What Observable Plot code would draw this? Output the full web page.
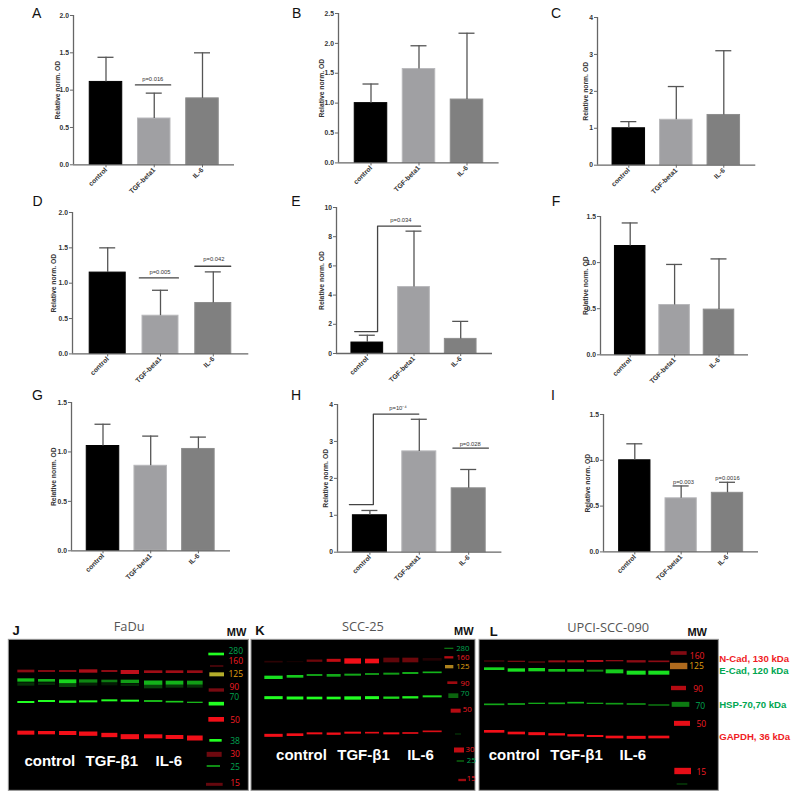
<!DOCTYPE html>
<html>
<head>
<meta charset="utf-8">
<script src="https://cdn.jsdelivr.net/npm/d3@7"></script>
<script src="https://cdn.jsdelivr.net/npm/@observablehq/plot@0.6"></script>
<style>
  html, body { margin: 0; padding: 0; background: #fff; }
  #page { position: relative; width: 800px; height: 799px; overflow: hidden; font-family: "Liberation Sans", Arial, sans-serif; }
  #page svg { position: absolute; background: transparent; }
  .letter { position: absolute; font-size: 14px; line-height: 14px; color: #111; transform: translate(-50%, -50%); }
</style>
</head>
<body>
<div id="page"></div>
<script>
// ---------- Bar chart data ----------
const categories = ["control", "TGF-beta1", "IL-6"];
const positions = [1, 2, 3];
const barFill = ["#000000", "#a0a0a3", "#808080"];
const barStroke = ["#000000", "#b8b8bb", "#8e8e8e"];
const yLabel = "Relative norm. OD";

const means_A = [1.11, 0.62, 0.89], upper_A = [1.44, 0.96, 1.50];
const means_B = [1.00, 1.57, 1.06], upper_B = [1.32, 1.96, 2.17];
const means_C = [1.00, 1.23, 1.36], upper_C = [1.18, 2.13, 3.10];
const means_D = [1.15, 0.54, 0.72], upper_D = [1.50, 0.90, 1.16];
const means_E = [0.75, 4.55, 1.00], upper_E = [1.25, 8.38, 2.20];
const means_F = [1.18, 0.54, 0.49], upper_F = [1.43, 0.98, 1.04];
const means_G = [1.06, 0.86, 1.03], upper_G = [1.28, 1.16, 1.15];
const means_H = [1.00, 2.73, 1.73], upper_H = [1.13, 3.60, 2.24];
const means_I = [1.00, 0.585, 0.645], upper_I = [1.18, 0.72, 0.76];

const ticks_2 = [0, 0.5, 1, 1.5, 2];
const ticks_25 = [0, 0.5, 1, 1.5, 2, 2.5];
const ticks_15 = [0, 0.5, 1, 1.5];
const ticks_4 = [0, 1, 2, 3, 4];
const ticks_10 = [0, 2, 4, 6, 8, 10];

// p-value annotations: [x in category units, y in data units, text]
const notes_A = [[1.97, 1.15, "p=0.016"]];
const notes_D = [[1.99, 1.15, "p=0.005"], [3.01, 1.34, "p=0.042"]];
const notes_E = [[1.72, 9.13, "p=0.034"]];
const notes_H = [[1.57, 3.91, "p=10\u207B\u2074"], [3.03, 2.92, "p=0.028"]];
const notes_I = [[2.05, 0.76, "p=0.003"], [3.0, 0.81, "p=0.0016"]];
// brackets: polyline vertices in [category units, data units]
const brackets_A = [[[1.61, 1.07], [2.34, 1.07]]];
const brackets_D = [[[1.60, 1.075], [2.34, 1.075]], [[2.65, 1.24], [3.33, 1.24]]];
const brackets_E = [[[0.73, 1.5], [1.22, 1.5], [1.22, 8.72], [2.14, 8.72]]];
const brackets_H = [[[0.585, 1.29], [1.07, 1.29], [1.07, 3.74], [1.99, 3.74]], [[2.68, 2.82], [3.40, 2.82]]];

// ---------- Panel layout ----------
const panels = [
  {id:"A", ax:73,    xEnd:234,   y0:164,   yTop:14.7,  c1:105.5, step:48.25, barW:32.5, ymax:2,   ticks:ticks_2,  fmt:".1f", title:18, means:means_A, upper:upper_A, notes:notes_A, brackets:brackets_A, lx:36.7, ly:13},
  {id:"B", ax:337.7, xEnd:498.3, y0:162.7, yTop:13.3,  c1:370.2, step:48,    barW:32.5, ymax:2.5, ticks:ticks_25, fmt:".1f", title:19, means:means_B, upper:upper_B, lx:296.7, ly:13},
  {id:"C", ax:596.7, xEnd:755,   y0:165,   yTop:17.3,  c1:628,   step:47.5,  barW:32.5, ymax:4,   ticks:ticks_4,  fmt:"d",   title:14, means:means_C, upper:upper_C, lx:556, ly:13},
  {id:"D", ax:72,    xEnd:248.3, y0:353.7, yTop:212.3, c1:107.2, step:52.8,  barW:36,   ymax:2,   ticks:ticks_2,  fmt:".1f", title:21, means:means_D, upper:upper_D, notes:notes_D, brackets:brackets_D, lx:37.5, ly:201},
  {id:"E", ax:335.7, xEnd:491.7, y0:352.7, yTop:206.7, c1:366.5, step:46.7,  barW:31.7, ymax:10,  ticks:ticks_10, fmt:"d",   title:17, means:means_E, upper:upper_E, notes:notes_E, brackets:brackets_E, lx:296, ly:201},
  {id:"F", ax:600.3, xEnd:748.3, y0:354,   yTop:215.7, c1:630,   step:44.4,  barW:30.5, ymax:1.5, ticks:ticks_15, fmt:".1f", title:17, means:means_F, upper:upper_F, lx:556, ly:201},
  {id:"G", ax:71,    xEnd:230,   y0:550,   yTop:401.7, c1:102.5, step:47.7,  barW:32.5, ymax:1.5, ticks:ticks_15, fmt:".1f", title:20, means:means_G, upper:upper_G, lx:37.5, ly:395},
  {id:"H", ax:337.3, xEnd:501.7, y0:551.7, yTop:404,   c1:369.7, step:49.4,  barW:34,   ymax:4,   ticks:ticks_4,  fmt:"d",   title:14, means:means_H, upper:upper_H, notes:notes_H, brackets:brackets_H, lx:296, ly:395},
  {id:"I", ax:602.7, xEnd:757.7, y0:551.7, yTop:414.3, c1:634,   step:46.35, barW:31.3, ymax:1.5, ticks:ticks_15, fmt:".1f", title:18, means:means_I, upper:upper_I, notes:notes_I, lx:553, ly:395}
];

const page = document.getElementById("page");
const ML = 32, MR = 6, MT = 6, MB = 46;

function addLetter(text, x, y) {
  const d = document.createElement("div");
  d.className = "letter";
  d.textContent = text;
  d.style.left = x + "px";
  d.style.top = y + "px";
  page.appendChild(d);
}

for (const p of panels) {
  const d0 = 1 - (p.c1 - p.ax) / p.step;
  const d1 = 1 + (p.xEnd - p.c1) / p.step;
  const hw = p.barW / 2 / p.step;
  const cap = 8 / p.step;
  const idx = [0, 1, 2];
  const axisColor = "#666";
  const marks = [
    Plot.rectY(idx, {
      x1: i => positions[i] - hw, x2: i => positions[i] + hw,
      y1: 0, y2: i => p.means[i],
      fill: i => barFill[i], stroke: i => barStroke[i], strokeWidth: 1
    }),
    Plot.ruleX(idx, {x: i => positions[i], y1: i => p.means[i], y2: i => p.upper[i], stroke: "#555", strokeWidth: 1.3}),
    Plot.ruleY(idx, {y: i => p.upper[i], x1: i => positions[i] - cap, x2: i => positions[i] + cap, stroke: "#555", strokeWidth: 1.3}),
    Plot.ruleX([d0], {y1: 0, y2: p.ymax, stroke: axisColor, strokeWidth: 1.3}),
    Plot.ruleY([0], {x1: d0, x2: d1, stroke: axisColor, strokeWidth: 1.3}),
    Plot.axisY({
      ticks: p.ticks, tickFormat: d3.format(p.fmt), tickSize: 3, tickPadding: 1.5,
      stroke: axisColor, label: yLabel, labelAnchor: "center", labelArrow: "none", labelOffset: p.title
    }),
    Plot.axisX({
      ticks: positions, tickFormat: i => categories[i - 1], tickSize: 3, tickPadding: 1,
      tickRotate: -45, stroke: axisColor, label: null
    })
  ];
  for (const b of p.brackets || []) {
    marks.push(Plot.line(b, {x: d => d[0], y: d => d[1], stroke: "#444", strokeWidth: 1.3, curve: "linear"}));
  }
  if (p.notes) {
    marks.push(Plot.text(p.notes, {x: d => d[0], y: d => d[1], text: d => d[2], fontSize: 5.8, fontWeight: "normal", fill: "#333"}));
  }
  const svg = Plot.plot({
    width: p.xEnd - p.ax + ML + MR,
    height: p.y0 - p.yTop + MT + MB,
    marginLeft: ML, marginRight: MR, marginTop: MT, marginBottom: MB,
    x: {domain: [d0, d1]},
    y: {domain: [0, p.ymax]},
    style: {fontFamily: '"Liberation Sans", Arial, sans-serif', fontSize: "6.8px", fontWeight: "bold", color: "#333", background: "transparent", overflow: "visible"},
    marks
  });
  svg.style.left = (p.ax - ML) + "px";
  svg.style.top = (p.yTop - MT) + "px";
  page.appendChild(svg);
  addLetter(p.id, p.lx, p.ly);
}

// ---------- Western blot data (gel image units) ----------
const RED = "#f20f18", DRED = "#c8101c", GREEN = "#18e020", LIME = "#22ff22", ORANGE = "#c09020";
const TGREEN = "#00a651", TRED = "#f01c24", TORANGE = "#e0a010";

const fadu_left  = [52, 114, 177, 237, 304, 362, 432, 497, 561];
const fadu_right = [103, 165, 229, 292, 352, 417, 487, 550, 608];
const fadu_ncad_y  = [183, 183, 183, 183, 183, 186, 185, 185, 185];
const fadu_ncad_th = [8, 6, 6, 10, 6, 12, 8, 8, 8];
const fadu_ncad_op = [0.7, 0.65, 0.65, 0.85, 0.7, 0.95, 0.8, 0.8, 0.75];
const fadu_ecad_y  = [210, 211, 214, 213, 213, 214, 218, 218, 218];
const fadu_ecad_th = [10, 8, 12, 10, 8, 10, 13, 12, 12];
const fadu_ecad_op = [0.85, 0.8, 0.95, 0.6, 0.55, 0.7, 0.8, 0.8, 0.7];
const fadu_smear_y  = [222, 221, 226, 223, 222, 224, 230, 229, 229];
const fadu_smear_th = [10, 8, 10, 8, 8, 8, 10, 8, 8];
const fadu_smear_op = [0.22, 0.18, 0.3, 0.15, 0.12, 0.18, 0.3, 0.25, 0.22];
const fadu_hsp_y   = [276, 273, 275, 274, 271, 272, 273, 275, 277];
const fadu_hsp_th  = [6, 6, 7, 6, 6, 6, 5, 5, 4];
const fadu_hsp_op  = [1, 1, 1, 1, 1, 1, 0.85, 0.8, 0.7];
const fadu_gapdh_y  = [368, 368, 369, 371, 375, 380, 379, 381, 384];
const fadu_gapdh_th = [12, 10, 12, 13, 13, 15, 12, 12, 15];
const fadu_gapdh_op = [1, 1, 1, 1, 1, 1, 1, 1, 1];
const fadu_mw_x1 = [625, 630, 628, 626, 626, 625, 628, 620, 620, 618];
const fadu_mw_x2 = [672, 670, 672, 672, 672, 672, 665, 665, 660, 668];
const fadu_mw_y  = [132, 168, 193, 240, 281, 328, 391, 433, 468, 523];
const fadu_mw_th = [8, 5, 12, 10, 11, 14, 8, 15, 5, 9];
const fadu_mw_fill = [LIME, DRED, "#c8c030", DRED, LIME, RED, LIME, DRED, GREEN, DRED];
const fadu_mw_op = [1, 0.4, 0.9, 0.6, 1, 1, 1, 0.55, 0.75, 0.5];
const fadu_label_text = ["280", "160", "125", "90", "70", "50", "38", "30", "25", "15"];
const fadu_label_x = [684, 684, 684, 687, 687, 689, 689, 689, 689, 689];
const fadu_label_y = [122, 152, 192, 230, 260, 328, 392, 430, 470, 518];
const fadu_label_fill = [TGREEN, TRED, TORANGE, TRED, TGREEN, TRED, TGREEN, TRED, TGREEN, TRED];

const scc25_left  = [58, 125, 185, 245, 298, 360, 415, 472, 533];
const scc25_right = [113, 175, 232, 287, 348, 402, 463, 520, 590];
const scc25_ncad_y  = [155, 155, 152, 151, 153, 153, 150, 150, 148];
const scc25_ncad_th = [5, 3, 7, 9, 16, 14, 14, 14, 8];
const scc25_ncad_op = [0.18, 0.1, 0.45, 0.8, 1, 1, 0.4, 0.45, 0.15];
const scc25_ecad_y  = [202, 199, 195, 196, 194, 192, 191, 189, 187];
const scc25_ecad_th = [10, 8, 6, 8, 6, 6, 6, 6, 5];
const scc25_ecad_op = [1, 0.9, 0.7, 0.75, 0.75, 0.65, 0.7, 0.75, 0.8];
const scc25_hsp_y   = [263, 264, 264, 264, 264, 263, 263, 262, 259];
const scc25_hsp_th  = [9, 9, 8, 8, 10, 9, 7, 7, 6];
const scc25_hsp_op  = [1, 1, 1, 1, 1, 1, 0.85, 0.95, 0.85];
const scc25_gapdh_y  = [376, 374, 370, 371, 368, 368, 370, 369, 364];
const scc25_gapdh_th = [9, 8, 6, 7, 6, 5, 6, 5, 5];
const scc25_gapdh_op = [1, 1, 1, 1, 1, 0.95, 1, 0.95, 0.9];
const scc25_mw_x1 = [598, 598, 600, 607, 610, 617, 630, 627, 635, 640];
const scc25_mw_x2 = [625, 625, 625, 637, 640, 647, 648, 657, 657, 663];
const scc25_mw_y  = [115, 142, 170, 218, 257, 302, 372, 420, 453, 510];
const scc25_mw_th = [4, 7, 10, 8, 14, 12, 3, 15, 4, 7];
const scc25_mw_fill = [GREEN, RED, ORANGE, RED, GREEN, RED, GREEN, RED, GREEN, RED];
const scc25_mw_op = [0.5, 0.75, 0.9, 0.65, 0.45, 0.75, 0.3, 0.8, 0.5, 0.65];
const scc25_label_text = ["280", "160", "125", "90", "70", "50", "30", "25", "15"];
const scc25_label_x = [632, 632, 632, 645, 645, 652, 660, 664, 664];
const scc25_label_y = [113, 141, 169, 218, 250, 298, 418, 449, 505];
const scc25_label_fill = [TGREEN, TRED, TORANGE, TRED, TGREEN, TRED, TRED, TGREEN, TRED];

const upci_left  = [42, 113, 175, 235, 292, 350, 407, 470, 535];
const upci_right = [103, 165, 225, 285, 342, 400, 460, 527, 598];
const upci_ncad_y  = [153, 154, 156, 154, 154, 153, 152, 154, 154];
const upci_ncad_th = [3, 4, 4, 6, 6, 6, 4, 7, 5];
const upci_ncad_op = [0.5, 0.6, 0.5, 0.75, 0.8, 0.9, 0.7, 0.7, 0.7];
const upci_ecad_y  = [176, 180, 179, 181, 181, 182, 184, 188, 188];
const upci_ecad_th = [8, 10, 10, 8, 8, 6, 12, 12, 12];
const upci_ecad_op = [0.95, 1, 0.95, 0.85, 0.85, 0.6, 0.9, 1, 1];
const upci_hsp_y   = [283, 282, 280, 280, 278, 280, 281, 282, 285];
const upci_hsp_th  = [5, 5, 4, 5, 5, 4, 5, 5, 4];
const upci_hsp_op  = [0.75, 0.75, 0.75, 0.75, 0.8, 0.7, 0.7, 0.65, 0.6];
const upci_gapdh_y  = [364, 369, 371, 373, 376, 378, 381, 382, 381];
const upci_gapdh_th = [8, 8, 9, 7, 7, 6, 8, 9, 8];
const upci_gapdh_op = [1, 1, 1, 1, 1, 1, 1, 1, 1];
const upci_mw_x1 = [602, 600, 603, 605, 612, 613, 620];
const upci_mw_x2 = [650, 652, 648, 658, 660, 663, 652];
const upci_mw_y  = [129, 168, 234, 283, 340, 483, 522];
const upci_mw_th = [11, 19, 13, 15, 15, 19, 4];
const upci_mw_fill = [DRED, "#b87020", RED, GREEN, RED, RED, GREEN];
const upci_mw_op = [0.65, 0.95, 0.75, 0.55, 0.95, 0.95, 0.3];
const upci_label_text = ["160", "125", "90", "70", "50", "15"];
const upci_label_x = [658, 656, 668, 675, 678, 678];
const upci_label_y = [136, 166, 235, 287, 342, 485];
const upci_label_fill = [TRED, TORANGE, TRED, TGREEN, TRED, TRED];

const protein_text = ["N-Cad, 130 kDa", "E-Cad, 120 kDa", "HSP-70,70 kDa", "GAPDH, 36 kDa"];
const protein_y = [146, 182, 283, 379];
const protein_fill = [TRED, TGREEN, TGREEN, TRED];

const groupNames = ["control", "TGF-\u03B21", "IL-6"];

// Gel layout
const gels = [
  {letter:"J", title:"FaDu", left:0, width:260, gx1:25, gx2:745, lx:47, ly:60, tx:386, ty:50, mwx:708, mwy:65, labelSize:8.5,
   lanesL:fadu_left, lanesR:fadu_right,
   rows:[
     [fadu_ncad_y, fadu_ncad_th, fadu_ncad_op, DRED],
     [fadu_smear_y, fadu_smear_th, fadu_smear_op, GREEN],
     [fadu_ecad_y, fadu_ecad_th, fadu_ecad_op, GREEN],
     [fadu_hsp_y, fadu_hsp_th, fadu_hsp_op, LIME],
     [fadu_gapdh_y, fadu_gapdh_th, fadu_gapdh_op, RED]],
   mw:[fadu_mw_x1, fadu_mw_x2, fadu_mw_y, fadu_mw_th, fadu_mw_fill, fadu_mw_op],
   lab:[fadu_label_text, fadu_label_x, fadu_label_y, fadu_label_fill],
   gx:[148, 334, 505], gy:452},
  {letter:"K", title:"SCC-25", left:245, width:240, gx1:18, gx2:690, lx:43, ly:62, tx:352, ty:50, mwx:655, mwy:62, labelSize:7.8,
   lanesL:scc25_left, lanesR:scc25_right,
   rows:[
     [scc25_ncad_y, scc25_ncad_th, scc25_ncad_op, RED],
     [scc25_ecad_y, scc25_ecad_th, scc25_ecad_op, GREEN],
     [scc25_hsp_y, scc25_hsp_th, scc25_hsp_op, LIME],
     [scc25_gapdh_y, scc25_gapdh_th, scc25_gapdh_op, RED]],
   mw:[scc25_mw_x1, scc25_mw_x2, scc25_mw_y, scc25_mw_th, scc25_mw_fill, scc25_mw_op],
   lab:[scc25_label_text, scc25_label_x, scc25_label_y, scc25_label_fill],
   gx:[168, 354, 525], gy:435},
  {letter:"L", title:"UPCI-SCC-090", left:470, width:330, gx1:27, gx2:745, lx:70, ly:63, tx:413, ty:52, mwx:680, mwy:65, labelSize:8.5,
   lanesL:upci_left, lanesR:upci_right,
   rows:[
     [upci_ncad_y, upci_ncad_th, upci_ncad_op, DRED],
     [upci_ecad_y, upci_ecad_th, upci_ecad_op, GREEN],
     [upci_hsp_y, upci_hsp_th, upci_hsp_op, GREEN],
     [upci_gapdh_y, upci_gapdh_th, upci_gapdh_op, RED]],
   mw:[upci_mw_x1, upci_mw_x2, upci_mw_y, upci_mw_th, upci_mw_fill, upci_mw_op],
   lab:[upci_label_text, upci_label_x, upci_label_y, upci_label_fill],
   gx:[131, 318, 487], gy:434, proteins:true}
];

const FONT = '"Liberation Sans", Arial, sans-serif';
const GEL_TOP = 88, GEL_BOTTOM = 541;

for (const g of gels) {
  const bands = [];
  for (const [ys, ths, ops, fill] of g.rows) {
    ys.forEach((y, i) => bands.push({x1: g.lanesL[i], x2: g.lanesR[i], y, th: ths[i], op: ops[i], fill}));
  }
  const [mx1, mx2, my, mth, mfill, mop] = g.mw;
  my.forEach((y, i) => bands.push({x1: mx1[i], x2: mx2[i], y, th: mth[i], op: mop[i], fill: mfill[i]}));
  const [lt, lx, ly, lf] = g.lab;
  const labels = lt.map((t, i) => ({t, x: lx[i], y: ly[i], f: lf[i]}));

  const marks = [
    Plot.rect([g], {x1: d => d.gx1, x2: d => d.gx2, y1: GEL_TOP, y2: GEL_BOTTOM, fill: "#000", stroke: "#999", strokeWidth: 1}),
    Plot.rect(bands, {
      x1: "x1", x2: "x2", y1: d => d.y - d.th / 2, y2: d => d.y + d.th / 2,
      fill: "fill", fillOpacity: "op", imageFilter: "blur(0.5px)"
    }),
    Plot.text(labels, {x: "x", y: "y", text: "t", fill: "f", textAnchor: "start", fontSize: g.labelSize, fontFamily: '"Open Sans", sans-serif'}),
    Plot.text(groupNames, {x: (d, i) => g.gx[i], y: () => g.gy, text: d => d, fill: "#fff", fontSize: 15, fontWeight: "bold", fontFamily: FONT}),
    Plot.text([g.title], {x: () => g.tx, y: () => g.ty, text: d => d, fill: "#555", fontSize: 12.8, fontFamily: '"Open Sans", sans-serif'}),
    Plot.text(["MW"], {x: () => g.mwx, y: () => g.mwy, text: d => d, fill: "#111", fontSize: 11, fontWeight: "bold", fontFamily: FONT}),
    Plot.text([g.letter], {x: () => g.lx, y: () => g.ly, text: d => d, fill: "#111", fontSize: 13, fontWeight: "bold", fontFamily: FONT})
  ];
  if (g.proteins) {
    marks.push(Plot.text(protein_text, {
      x: () => 746, y: (d, i) => protein_y[i], text: d => d, fill: (d, i) => protein_fill[i],
      textAnchor: "start", fontSize: 9.6, fontWeight: "bold", fontFamily: FONT
    }));
  }
  const svg = Plot.plot({
    width: g.width, height: 189,
    marginLeft: 0, marginRight: 0, marginTop: 0, marginBottom: 0,
    x: {domain: [0, g.width * 3], axis: null},
    y: {domain: [0, 567], reverse: true, axis: null},
    color: {type: "identity"},
    opacity: {type: "identity"},
    style: {background: "transparent", overflow: "visible", fontFamily: FONT},
    marks
  });
  svg.style.left = g.left + "px";
  svg.style.top = "610px";
  page.appendChild(svg);
}
</script>
</body>
</html>
